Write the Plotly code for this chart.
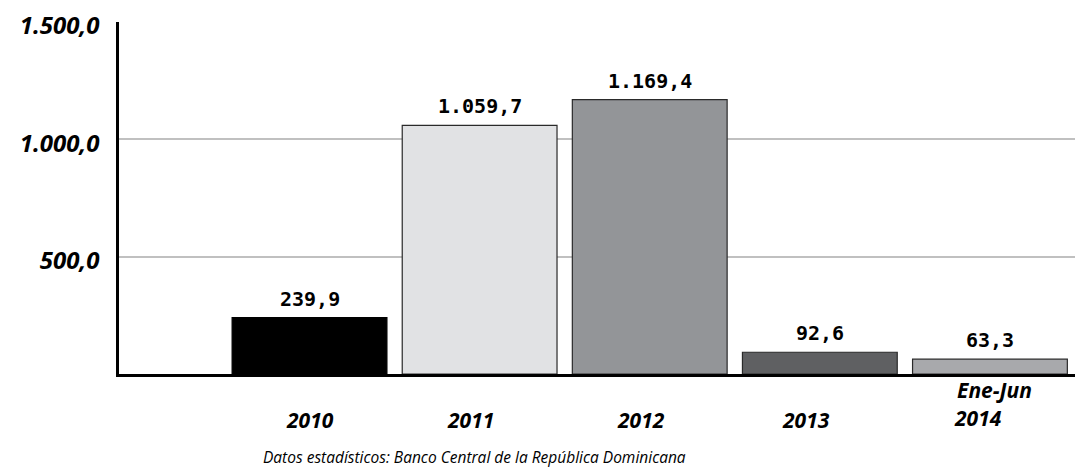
import plotly.graph_objects as go

categories = ["2010", "2011", "2012", "2013", "Ene-Jun 2014"]
values = [239.9, 1059.7, 1169.4, 92.6, 63.3]
value_labels = ["239,9", "1.059,7", "1.169,4", "92,6", "63,3"]
tick_vals = [500, 1000, 1500]
tick_text = ["500,0", "1.000,0", "1.500,0"]
source_text = "Datos estadísticos: Banco Central de la República Dominicana"

bar_colors = ["#000000", "#e1e2e4", "#939598", "#5f6062", "#a8a9ac"]
line_colors = ["#000000", "#2a2a2a", "#2a2a2a", "#2a2a2a", "#2a2a2a"]

xs = list(range(len(categories)))

fig = go.Figure()
fig.add_trace(go.Bar(
    x=xs, y=values, width=0.91,
    marker=dict(color=bar_colors, line=dict(color=line_colors, width=1.2)),
    hoverinfo="skip",
))

for xi, v, lab in zip(xs, values, value_labels):
    fig.add_annotation(x=xi, y=v, xref="x", yref="y", text=lab, showarrow=False,
                       yanchor="bottom", yshift=5,
                       font=dict(family="DejaVu Sans Mono", size=20, color="#000000", weight="bold"))

cat_font = dict(family="Open Sans", size=21, color="#000000", weight="bold", style="italic")
label_shift = [0, -9, -9, -14, 0]
for xi, cat, sh in zip(xs, categories, label_shift):
    if cat.startswith("Ene-Jun"):
        parts = cat.split(" ")
        fig.add_annotation(x=xi, y=-0.045, xref="x", yref="paper", text=parts[0], xshift=5,
                           showarrow=False, yanchor="middle", font=cat_font)
        fig.add_annotation(x=xi, y=-0.125, xref="x", yref="paper", text=parts[1], xshift=-12,
                           showarrow=False, yanchor="middle", font=cat_font)
    else:
        fig.add_annotation(x=xi, y=-0.13, xref="x", yref="paper", text=cat, xshift=sh,
                           showarrow=False, yanchor="middle", font=cat_font)

fig.add_annotation(x=0.372, y=-0.235, xref="paper", yref="paper", text=source_text,
                   showarrow=False, yanchor="middle",
                   font=dict(family="Open Sans", size=15.5, color="#000000", style="italic"))

fig.update_xaxes(range=[-1.12, 4.5], showticklabels=False, showgrid=False, zeroline=False,
                 showline=True, linecolor="#000000", linewidth=2.5)
fig.update_yaxes(range=[0, 1500], tickvals=tick_vals, ticktext=tick_text,
                 showgrid=True, gridcolor="#c0c0c0", gridwidth=1.5, zeroline=False,
                 showline=True, linecolor="#000000", linewidth=2.5,
                 ticks="outside", ticklen=0, ticklabelstandoff=12, ticklabelshift=4,
                 tickfont=dict(family="Open Sans", size=24, color="#000000", weight="bold", style="italic"))

fig.update_layout(
    width=1075, height=467,
    margin=dict(l=119, r=0, t=22, b=93),
    plot_bgcolor="#ffffff", paper_bgcolor="#ffffff",
    showlegend=False, bargap=0.09,
)

fig.write_html("out.html")
